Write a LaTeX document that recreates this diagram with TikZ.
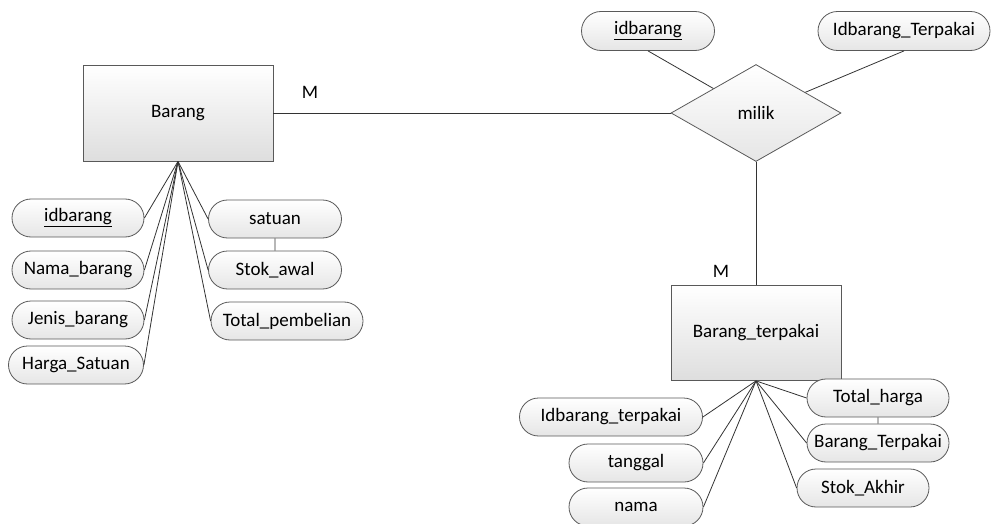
\documentclass[tikz,border=0pt]{standalone}
\usepackage{fontspec}
\setmainfont{Carlito}
\usepackage{tikz}
\usetikzlibrary{shapes.geometric,shapes.misc}
\tikzset{every picture/.style={line width=0.8pt,font=\fontsize{19}{23}\selectfont}}
\tikzstyle{entity} =
  [ rectangle
  , draw=black!65
  , top color=white
  , bottom color=black!13
  , inner sep=0pt
  ]
\tikzstyle{relation} =
  [ diamond
  , draw=black!65
  , top color=white
  , bottom color=black!10
  , inner sep=0pt
  , minimum width=170pt
  , minimum height=97pt
  ]
\tikzstyle{attribute} =
  [ rounded rectangle
  , draw=black!65
  , top color=white
  , bottom color=black!10
  , inner sep=0pt
  , minimum height=38pt
  ]
\tikzstyle{link} =
  [ draw=black!80
  ]
\def\NamaBarang{Nama\_barang}
\def\JenisBarang{Jenis\_barang}
\def\HargaSatuan{Harga\_Satuan}
\def\TotalPembelian{Total\_pembelian}
\def\IdbarangTerpakaiRel{Idbarang\_Terpakai}
\def\IdbarangTerpakai{Idbarang\_terpakai}
\def\BarangTerpakai{Barang\_terpakai}
\begin{document}
\begin{tikzpicture}[x=1pt,y=-1pt]
    \useasboundingbox (0, 0) rectangle (991, 524);

    % entitas dan relasi
    \node[entity, minimum width=190pt, minimum height=96pt] (barang) at (178, 113) {Barang};
    \node[relation] (milik) at (756, 113) {milik};
    \node[entity, minimum width=170pt, minimum height=95pt] (barang_terpakai) at (756, 333) {\BarangTerpakai};
    \draw[link] (barang) -- (milik);
    \draw[link] (milik) -- (barang_terpakai);
    \node (card_barang) at (310, 92)  {M};
    \node (card_terpakai) at (721, 271) {M};

    % atribut Barang
    \node[attribute, minimum width=132pt] (idbarang)        at (78, 218)  {\underline{idbarang}};
    \node[attribute, minimum width=132pt] (nama_barang)     at (78, 270)  {\NamaBarang};
    \node[attribute, minimum width=132pt] (jenis_barang)    at (78, 320)  {\JenisBarang};
    \node[attribute, minimum width=135pt] (harga_satuan)    at (76, 365)  {\HargaSatuan};
    \node[attribute, minimum width=133pt] (satuan)          at (275, 219) {satuan};
    \node[attribute, minimum width=133pt] (stok_awal)       at (275, 270) {Stok\_awal};
    \node[attribute, minimum width=152pt] (total_pembelian) at (287, 321) {\TotalPembelian};
    \draw[link] (barang.south) -- (idbarang.east);
    \draw[link] (barang.south) -- (nama_barang.east);
    \draw[link] (barang.south) -- (jenis_barang.east);
    \draw[link] (barang.south) -- (harga_satuan.east);
    \draw[link] (barang.south) -- (satuan.west);
    \draw[link] (barang.south) -- (stok_awal.west);
    \draw[link] (barang.south) -- (total_pembelian.west);
    \draw[link] (satuan) -- (stok_awal);

    % atribut milik
    \node[attribute, minimum width=133pt, minimum height=39pt] (milik_idbarang) at (648, 31) {\underline{idbarang}};
    \node[attribute, minimum width=172pt, minimum height=39pt] (milik_idterpakai) at (904, 31) {\IdbarangTerpakaiRel};
    \draw[link] (milik_idbarang.south) -- (milik);
    \draw[link] (milik_idterpakai.south) -- (milik);

    % atribut Barang_terpakai
    \node[attribute, minimum width=183pt] (idbarang_terpakai) at (611, 417) {\IdbarangTerpakai};
    \node[attribute, minimum width=134pt] (tanggal)           at (636, 463) {tanggal};
    \node[attribute, minimum width=134pt] (nama)              at (636, 507) {nama};
    \node[attribute, minimum width=142pt] (total_harga)       at (878, 398) {Total\_harga};
    \node[attribute, minimum width=142pt] (barang_terpakai_a) at (878, 443) {Barang\_Terpakai};
    \node[attribute, minimum width=132pt] (stok_akhir)        at (863, 488) {Stok\_Akhir};
    \draw[link] (barang_terpakai.south) -- (idbarang_terpakai.east);
    \draw[link] (barang_terpakai.south) -- (tanggal.east);
    \draw[link] (barang_terpakai.south) -- (nama.east);
    \draw[link] (barang_terpakai.south) -- (total_harga.west);
    \draw[link] (barang_terpakai.south) -- (barang_terpakai_a.west);
    \draw[link] (barang_terpakai.south) -- (stok_akhir.west);
    \draw[link] (total_harga) -- (barang_terpakai_a);
\end{tikzpicture}
\end{document}
